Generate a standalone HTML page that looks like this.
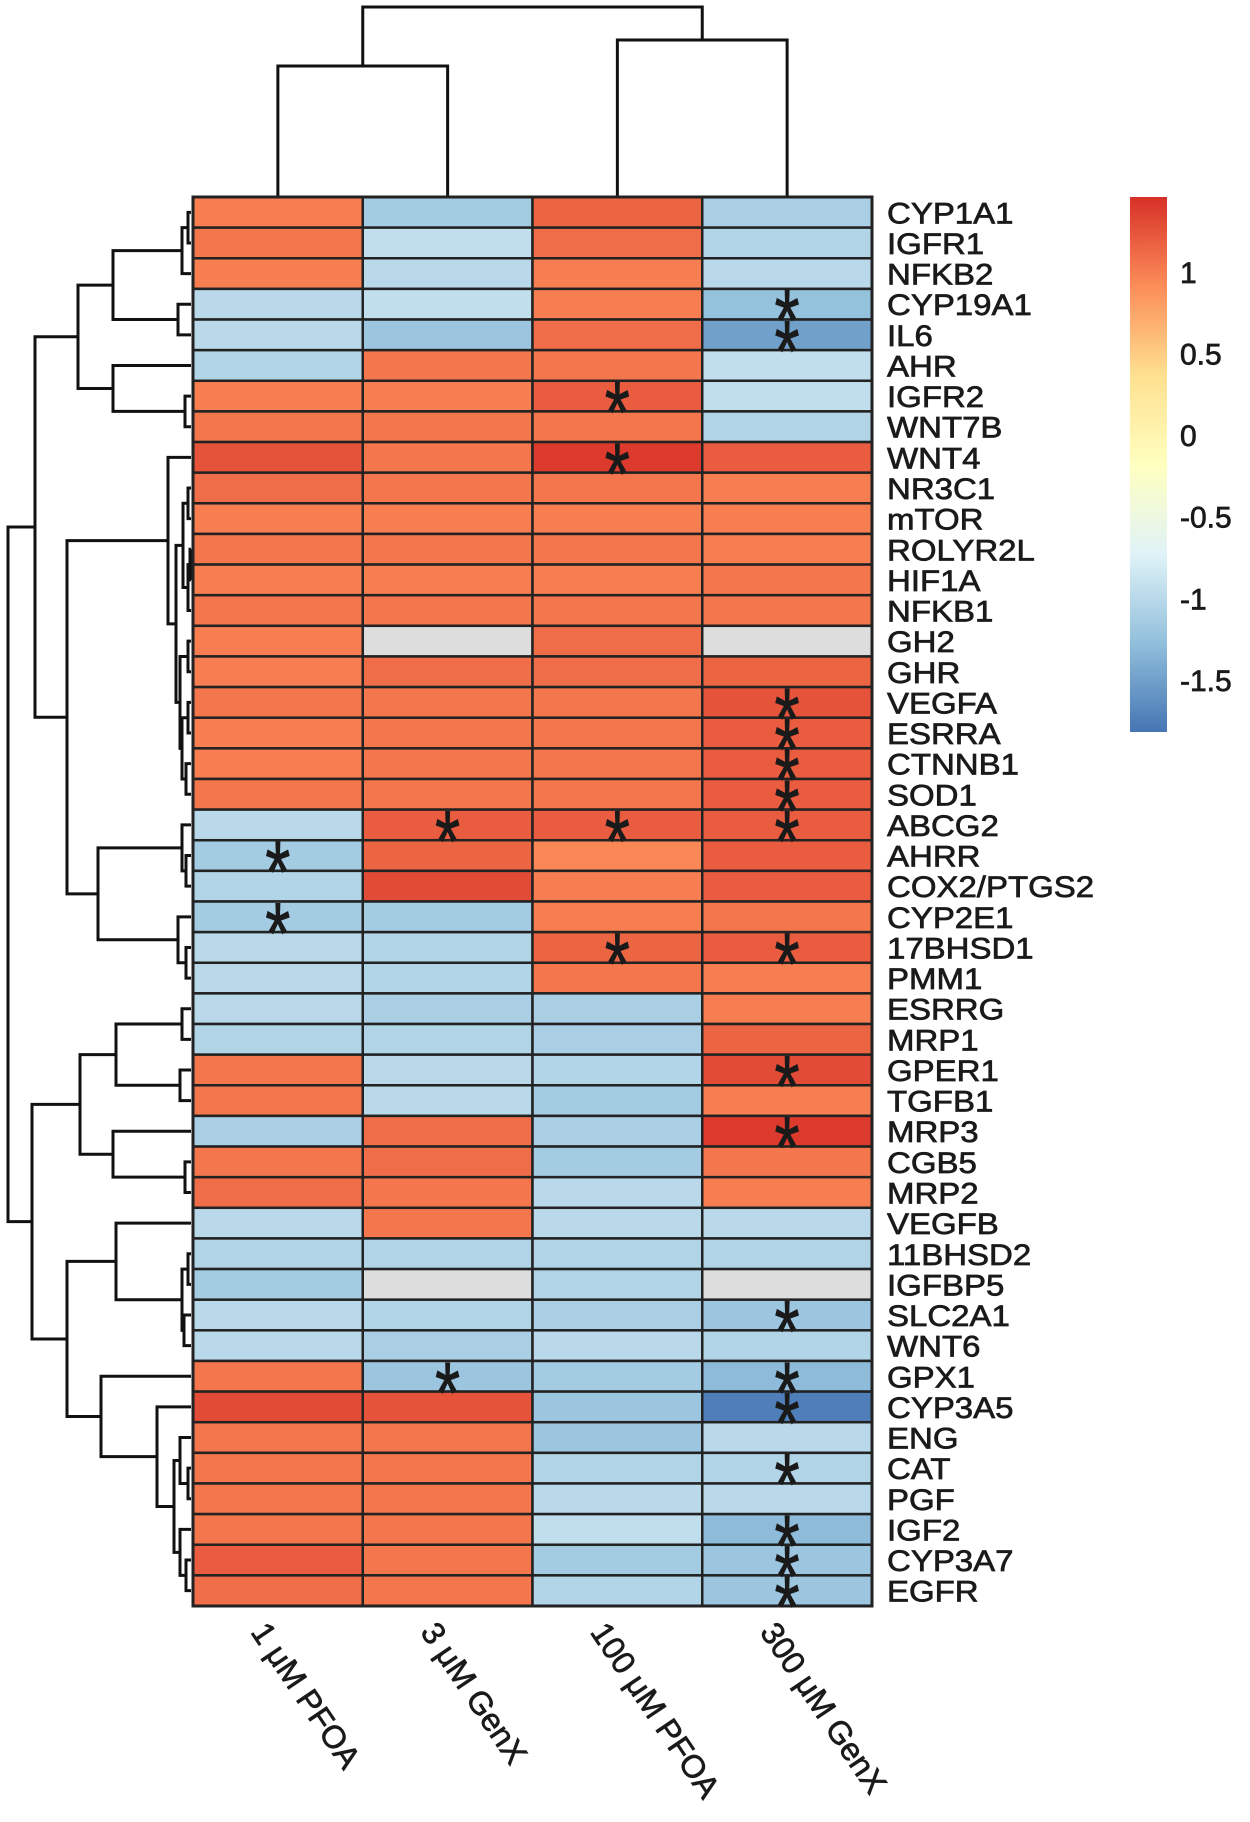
<!DOCTYPE html>
<html><head><meta charset="utf-8"><style>
html,body{margin:0;padding:0;background:#fff}
svg{display:block}
text{font-family:"Liberation Sans",Arial,sans-serif;fill:#1a1a1a}
.lbl{stroke:#1a1a1a;stroke-width:0.7}
</style></head><body>
<svg id="chart" width="1250" height="1822" viewBox="0 0 1250 1822" xmlns="http://www.w3.org/2000/svg">
<defs>
<linearGradient id="cbgrad" x1="0" y1="1" x2="0" y2="0">
<stop offset="0" stop-color="#4575B4"/><stop offset="0.1667" stop-color="#91BFDB"/><stop offset="0.3333" stop-color="#E0F3F8"/><stop offset="0.5" stop-color="#FFFFBF"/><stop offset="0.6667" stop-color="#FEE090"/><stop offset="0.8333" stop-color="#FC8D59"/><stop offset="1" stop-color="#D73027"/>
</linearGradient>
</defs>
<g id="dendro-left"></g>
<g id="dendro-top"></g>
<g id="cells"></g>
<g id="stars"></g>
<g id="rowlabels"></g>
<g id="collabels"></g>
<g id="legend">
<rect x="1130" y="197" width="37" height="535" fill="url(#cbgrad)"/>
</g>
</svg>
<script>
const genes=["CYP1A1","IGFR1","NFKB2","CYP19A1","IL6","AHR","IGFR2","WNT7B","WNT4","NR3C1","mTOR","ROLYR2L","HIF1A","NFKB1","GH2","GHR","VEGFA","ESRRA","CTNNB1","SOD1","ABCG2","AHRR","COX2/PTGS2","CYP2E1","17BHSD1","PMM1","ESRRG","MRP1","GPER1","TGFB1","MRP3","CGB5","MRP2","VEGFB","11BHSD2","IGFBP5","SLC2A1","WNT6","GPX1","CYP3A5","ENG","CAT","PGF","IGF2","CYP3A7","EGFR"];
const conditions=["1 μM PFOA","3 μM GenX","100 μM PFOA","300 μM GenX"];
const col1PFOA=[1.0,1.05,1.0,-1.0,-1.0,-1.05,1.0,1.05,1.25,1.1,1.0,1.05,1.0,1.05,1.0,1.0,1.05,1.0,1.0,1.05,-1.0,-1.15,-1.05,-1.15,-1.0,-1.0,-1.0,-1.05,1.05,1.05,-1.1,1.05,1.1,-1.0,-1.05,-1.15,-1.0,-1.0,1.05,1.3,1.05,1.05,1.05,1.05,1.2,1.1];
const col3GenX=[-1.15,-0.95,-1.0,-0.95,-1.2,1.05,1.0,1.05,1.05,1.05,1.0,1.05,1.0,1.05,null,1.1,1.05,1.05,1.05,1.05,1.2,1.15,1.3,-1.15,-1.05,-1.05,-1.1,-1.05,-1.0,-1.0,1.1,1.1,1.05,1.05,-1.05,null,-1.05,-1.1,-1.2,1.25,1.05,1.05,1.05,1.05,1.05,1.05];
const col100PFOA=[1.15,1.1,1.0,1.0,1.1,1.05,1.2,1.05,1.4,1.05,1.0,1.05,1.0,1.05,1.1,1.1,1.05,1.05,1.05,1.05,1.2,0.95,1.0,1.0,1.15,1.05,-1.1,-1.1,-1.05,-1.15,-1.1,-1.15,-1.0,-1.0,-1.05,-1.05,-1.1,-1.0,-1.15,-1.2,-1.2,-1.05,-1.0,-0.95,-1.15,-1.05];
const col300GenX=[-1.1,-1.05,-1.0,-1.25,-1.5,-0.95,-0.95,-1.05,1.2,1.0,1.0,1.0,1.05,1.05,null,1.15,1.25,1.2,1.2,1.2,1.2,1.2,1.2,1.05,1.2,1.0,1.0,1.15,1.3,1.0,1.4,1.05,1.0,-1.0,-1.05,null,-1.2,-1.05,-1.3,-1.75,-1.0,-1.05,-1.0,-1.3,-1.2,-1.2];
const significant=[[3,3],[4,3],[6,2],[8,2],[16,3],[17,3],[18,3],[19,3],[20,1],[20,2],[20,3],[21,0],[23,0],[24,2],[24,3],[28,3],[30,3],[36,3],[38,1],[38,3],[39,3],[41,3],[43,3],[44,3],[45,3]];
const legendTicks=[1,0.5,0,-0.5,-1,-1.5];
const legendTickLabels=["1","0.5","0","-0.5","-1","-1.5"];

const NS="http://www.w3.org/2000/svg";
const X0=193,X1=872,Y0=197,Y1=1606;
const cw=(X1-X0)/conditions.length, rh=(Y1-Y0)/genes.length;
const vmin=-1.82,vmax=1.46;
const stops=["#4575B4","#91BFDB","#E0F3F8","#FFFFBF","#FEE090","#FC8D59","#D73027"].map(h=>[parseInt(h.slice(1,3),16),parseInt(h.slice(3,5),16),parseInt(h.slice(5,7),16)]);
function color(v){if(v===null)return "#DDDDDD";let t=(v-vmin)/(vmax-vmin);t=Math.max(0,Math.min(1,t))*(stops.length-1);const i=Math.min(stops.length-2,Math.floor(t));const f=t-i;const c=stops[i].map((a,k)=>Math.round(a+(stops[i+1][k]-a)*f));return `rgb(${c[0]},${c[1]},${c[2]})`;}
const xPos=j=>X0+j*cw, yPos=i=>Y0+i*rh;
function mk(tag,attrs,parent){const e=document.createElementNS(NS,tag);for(const k in attrs)e.setAttribute(k,attrs[k]);parent.appendChild(e);return e;}
const cols=[col1PFOA,col3GenX,col100PFOA,col300GenX];
const cells=document.getElementById('cells');
cols.forEach((arr,j)=>arr.forEach((v,i)=>{
 const r=mk('rect',{x:xPos(j),y:yPos(i),width:cw,height:rh,fill:color(v),stroke:'#222','stroke-width':2.5},cells);
 
 
}));
mk('rect',{x:X0,y:Y0,width:X1-X0,height:Y1-Y0,fill:'none',stroke:'#222','stroke-width':3},cells);
const stars=document.getElementById('stars');
significant.forEach(([i,j])=>{
 const t=mk('text',{x:0,y:0,'text-anchor':'middle','font-size':64,transform:`translate(${xPos(j)+cw/2},${yPos(i)+rh/2+46}) scale(1,1.35)`,class:'lbl'},stars);
 t.textContent='*';
 
 
});
const rl=document.getElementById('rowlabels');
genes.forEach((g,i)=>{
 const t=mk('text',{x:0,y:0,'font-size':30,class:'lbl',transform:`translate(887,${yPos(i)+rh/2+11}) scale(1.1,1)`},rl);
 t.textContent=g;
 
 
});
const cl=document.getElementById('collabels');
conditions.forEach((c,j)=>{
 const t=mk('text',{x:0,y:0,'font-size':32,class:'lbl',transform:`translate(${xPos(j)+cw/2-28},${1632}) rotate(56)`},cl);
 t.textContent=c;
 
 
});
const lg=document.getElementById('legend');
legendTicks.forEach((v,k)=>{
 const y=197+(vmax-v)/(vmax-vmin)*535;
 const t=mk('text',{x:1180,y:y+11,'font-size':30,class:'lbl'},lg);
 t.textContent=legendTickLabels[k];
 
 
});
const rowTree=[8,[35,[78,[113,[182,[188,0,1],2],[178,3,4]],[113,5,[185,6,7]]],[67,[168,8,[176,[183,[188,9,10],[188,[190,11,12],13]],[180,[188,14,15],[182,[188,16,17],[186,18,19]]]]],[98,[182,20,[186,21,22]],[178,23,[186,24,25]]]]],[32,[80,[116,[182,26,27],[180,28,29]],[113,30,[185,31,32]]],[67,[116,33,[182,[188,34,35],[184,36,37]]],[101,38,[157,39,[174,[180,40,[188,41,42]],[180,43,[186,44,45]]]]]]]];
const dl=document.getElementById('dendro-left');
function drawRow(n){
 if(typeof n==='number')return {x:X0-2,y:yPos(n)+rh/2};
 const a=drawRow(n[1]),b=drawRow(n[2]);const x=n[0];
 const p=mk('path',{d:`M${a.x},${a.y}H${x}V${b.y}H${b.x}`,fill:'none',stroke:'#111','stroke-width':3},dl);
 
 
 return {x:x,y:(a.y+b.y)/2};
}
drawRow(rowTree);
const colTree=[7,[66,0,1],[40,2,3]];
const dt=document.getElementById('dendro-top');
function drawCol(n){
 if(typeof n==='number')return {x:xPos(n)+cw/2,y:Y0-1};
 const a=drawCol(n[1]),b=drawCol(n[2]);const y=n[0];
 const p=mk('path',{d:`M${a.x},${a.y}V${y}H${b.x}V${b.y}`,fill:'none',stroke:'#111','stroke-width':3},dt);
 
 
 return {x:(a.x+b.x)/2,y:y};
}
drawCol(colTree);
</script>
</body></html>
